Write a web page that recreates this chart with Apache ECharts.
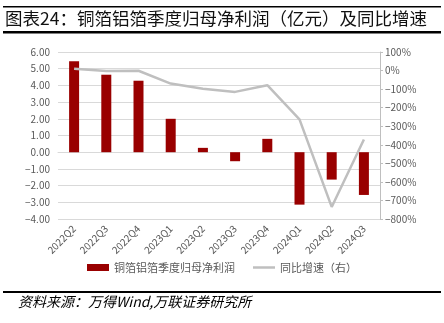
<!DOCTYPE html>
<html>
<head>
<meta charset="utf-8">
<script src="https://cdn.jsdelivr.net/npm/echarts@6/dist/echarts.min.js"></script>
<style>
  html, body { margin: 0; padding: 0; background: #fff; }
  #chart { width: 444px; height: 323px; }
</style>
</head>
<body>
<div id="chart"></div>
<script>
// Quarterly attributable net profit of copper/aluminium foil makers (100m CNY) and YoY growth (%)
const quarters = ['2022Q2', '2022Q3', '2022Q4', '2023Q1', '2023Q2', '2023Q3', '2023Q4', '2024Q1', '2024Q2', '2024Q3'];
const netProfit = [5.44, 4.64, 4.28, 2.00, 0.26, -0.54, 0.80, -3.14, -1.64, -2.56];
const yoyGrowth = [10, -3, -1, -70, -98, -115, -79, -263, -735, -372];

const leftTicks = { min: -4, max: 6, interval: 1 };
const rightTicks = { min: -800, max: 100, interval: 100 };

const titleText = '图表24：铜箔铝箔季度归母净利润（亿元）及同比增速';
const sourceText = '资料来源：万得Wind,万联证券研究所';
const barName = '铜箔铝箔季度归母净利润';
const lineName = '同比增速（右）';

const chart = echarts.init(document.getElementById('chart'));
const labelColor = '#595959';

chart.setOption({
  animation: false,
  textStyle: { fontFamily: '"Noto Sans CJK SC", "Noto Sans", sans-serif' },
  grid: { left: 58, right: 64, top: 52, bottom: 104, containLabel: false },
  graphic: [
    { type: 'rect', shape: { x: 3, y: 6, width: 438, height: 1.6 }, style: { fill: '#000' } },
    { type: 'text', left: 5, top: 10,
      style: { text: titleText, font: 'normal 17.5px "Noto Sans CJK SC"', fill: '#111' } },
    { type: 'rect', shape: { x: 3, y: 31, width: 438, height: 2.6 }, style: { fill: '#000' } },
    { type: 'rect', shape: { x: 3, y: 291, width: 438, height: 2 }, style: { fill: '#000' } },
    { type: 'text', left: 18, top: 295,
      style: { text: sourceText, font: 'italic 14px "Noto Sans CJK SC"', fill: '#000' } }
  ],
  legend: {
    bottom: 45,
    left: 'center',
    itemGap: 18,
    itemWidth: 22,
    itemHeight: 7,
    textStyle: { color: labelColor, fontSize: 11 },
    data: [
      { name: barName, icon: 'rect' },
      { name: lineName, icon: 'path://M0,0 L22,0 L22,2.5 L0,2.5 Z' }
    ]
  },
  xAxis: {
    type: 'category',
    data: quarters,
    axisLine: { show: true, lineStyle: { color: '#d9d9d9', width: 1 } },
    axisTick: { show: false },
    axisLabel: { color: labelColor, fontSize: 10, rotate: 45, interval: 0, margin: 8 }
  },
  yAxis: [
    {
      type: 'value',
      min: leftTicks.min, max: leftTicks.max, interval: leftTicks.interval,
      axisLine: { show: false },
      axisTick: { show: false },
      splitLine: { lineStyle: { color: '#d9d9d9', width: 1 } },
      axisLabel: { color: labelColor, fontSize: 10, margin: 8,
        formatter: v => (v < 0 ? '\u2212' : '') + Math.abs(v).toFixed(2) }
    },
    {
      type: 'value',
      min: rightTicks.min, max: rightTicks.max, interval: rightTicks.interval,
      position: 'right',
      axisLine: { show: true, lineStyle: { color: '#bfbfbf', width: 1 } },
      axisTick: { show: true, inside: false, length: 3, lineStyle: { color: '#bfbfbf' } },
      splitLine: { show: false },
      axisLabel: { color: labelColor, fontSize: 10, margin: 5,
        formatter: v => (v < 0 ? '\u2212' : '') + Math.abs(v) + '%' }
    }
  ],
  series: [
    {
      name: barName,
      type: 'bar',
      data: netProfit,
      yAxisIndex: 0,
      barWidth: 10,
      itemStyle: { color: '#990000' }
    },
    {
      name: lineName,
      type: 'line',
      data: yoyGrowth,
      yAxisIndex: 1,
      symbol: 'none',
      lineStyle: { color: '#bfbfbf', width: 2.5 },
      itemStyle: { color: '#bfbfbf' }
    }
  ]
});
</script>
</body>
</html>
